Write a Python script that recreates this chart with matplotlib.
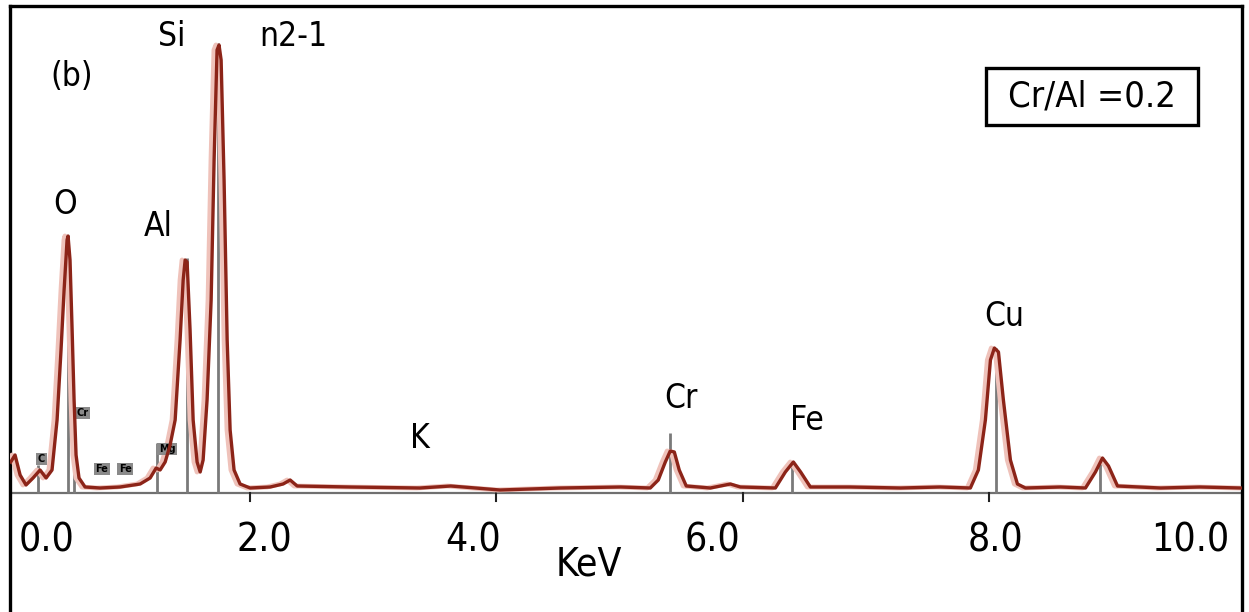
import matplotlib
matplotlib.use("Agg")
import matplotlib.pyplot as plt
from matplotlib.patches import Rectangle
from matplotlib import font_manager

# ---- data (energy in keV, counts in arbitrary units) ----
energy = [0.06, 0.095, 0.136, 0.184, 0.241, 0.298, 0.347, 0.395, 0.436, 0.468,
          0.493, 0.517, 0.525, 0.541, 0.558, 0.574, 0.590, 0.614, 0.663, 0.785,
          0.947, 1.110, 1.191, 1.240, 1.272, 1.313, 1.353, 1.394, 1.434, 1.459,
          1.475, 1.491, 1.515, 1.540, 1.572, 1.597, 1.621, 1.653, 1.686, 1.710,
          1.734, 1.750, 1.767, 1.791, 1.816, 1.840, 1.872, 1.921, 2.002, 2.165,
          2.270, 2.327, 2.384, 2.81, 3.38, 3.63, 4.03, 4.52, 5.01, 5.249,
          5.314, 5.371, 5.411, 5.444, 5.484, 5.541, 5.736, 5.899, 5.98, 6.264,
          6.345, 6.410, 6.469, 6.548, 6.87, 7.28, 7.60, 7.846, 7.911, 7.968,
          8.009, 8.041, 8.074, 8.114, 8.171, 8.228, 8.293, 8.577, 8.780, 8.861,
          8.918, 8.967, 9.040, 9.39, 9.71, 10.04]
counts = [31, 38, 18, 8, 15, 23, 15, 23, 73, 143,
          203, 253, 257, 233, 163, 93, 38, 15, 6, 5,
          6, 9, 15, 25, 23, 31, 48, 73, 153, 213,
          233, 231, 163, 73, 31, 21, 33, 93, 193, 333,
          443, 448, 433, 313, 153, 63, 23, 9, 5, 6,
          9, 13, 7, 6, 5, 7, 3, 5, 6, 5,
          13, 31, 42, 41, 23, 7, 5, 9, 6, 5,
          21, 31, 21, 6, 6, 5, 6, 5, 23, 73,
          133, 145, 141, 93, 33, 9, 5, 6, 5, 21,
          35, 27, 7, 5, 6, 5]

# element marker lines
marker_energy = [0.28, 0.525, 0.573, 1.25, 1.49, 1.74, 5.41, 6.40, 8.05, 8.90]
marker_height = [28, 258, 82, 50, 235, 450, 60, 31, 145, 35]

# big element labels
peak_labels = ["O", "Al", "Si", "K", "Cr", "Fe", "Cu"]
peak_label_x = [0.50, 1.26, 1.37, 3.38, 5.50, 6.52, 8.12]
peak_label_y = [272, 250, 440, 38, 78, 56, 160]

# small marker tags
tag_labels = ["C", "Cr", "Fe", "Fe", "Mg"]
tag_x = [0.31, 0.64, 0.80, 0.99, 1.33]
tag_y = [34, 80, 24, 24, 44]

# tick labels as printed
tick_texts = ["0.0", "2.0", "4.0", "6.0", "8.0", "10.0"]
tick_text_x = [0.35, 2.12, 3.81, 5.75, 8.05, 9.63]
major_ticks = [2, 4, 6, 8]

# ---- figure ----
fams = [f.name for f in font_manager.fontManager.ttflist]
narrow = "Liberation Sans Narrow" if "Liberation Sans Narrow" in fams else "DejaVu Sans"
stretch = "normal" if narrow == "Liberation Sans Narrow" else "condensed"

fig = plt.figure(figsize=(12.49, 6.12), dpi=100)
ax = fig.add_axes([10 / 1249, 0.0, 1232 / 1249, (612 - 6) / 612])
ax.set_xlim(0.054, 10.05)
ax.set_ylim(-119, 487)

for s in ["left", "top", "right"]:
    ax.spines[s].set_linewidth(2.4)
    ax.spines[s].set_color("black")
ax.spines["bottom"].set_visible(False)
ax.set_xticks([])
ax.set_yticks([])

# baseline
ax.axhline(0, color="#707070", lw=1.6, zorder=1)
for t in major_ticks:
    ax.plot([t, t], [0, -8], color="#222222", lw=1.5, zorder=1)

# marker lines
ax.vlines(marker_energy, 0, marker_height, color="#7a7a7a", lw=2.0, zorder=2)

# spectrum (pink halo + dark red line)
ax.plot([e - 0.025 for e in energy], counts, color="#efc2ba", lw=3.5, zorder=3,
        solid_joinstyle="round")
ax.plot(energy, counts, color="#8c2418", lw=2.4, zorder=4, solid_joinstyle="round")

# labels
kw = dict(family=narrow, fontstretch=stretch, color="black")
for lab, x, y in zip(peak_labels, peak_label_x, peak_label_y):
    ax.text(x, y, lab, fontsize=24, ha="center", va="bottom", **kw)
ax.text(2.35, 440, "n2-1", fontsize=24, ha="center", va="bottom", **kw)
ax.text(0.55, 400, "(b)", fontsize=24, ha="center", va="bottom", **kw)

for lab, x, y in zip(tag_labels, tag_x, tag_y):
    ax.text(x, y, lab, fontsize=7, ha="center", va="center", color="black",
            fontweight="bold",
            bbox=dict(boxstyle="square,pad=0.15", fc="#8a8a8a", ec="none"))

for lab, x in zip(tick_texts, tick_text_x):
    ax.text(x, -48, lab, fontsize=28, ha="center", va="center", **kw)
ax.text(4.75, -72, "KeV", fontsize=28, ha="center", va="center", **kw)

# Cr/Al box
ax.add_patch(Rectangle((7.97, 368), 1.72, 57, fill=False, ec="black", lw=2.4, zorder=5))
ax.text(8.83, 396, "Cr/Al =0.2", fontsize=26, ha="center", va="center", **kw)

fig.savefig("out.png", dpi=100)
